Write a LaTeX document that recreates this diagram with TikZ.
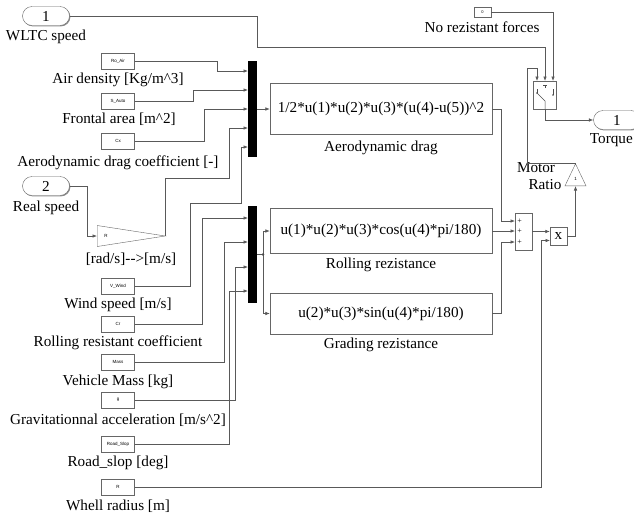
\documentclass[tikz,border=0pt]{standalone}
\usepackage{fontspec}
\setmainfont{Liberation Serif}
\setsansfont{Liberation Sans}
\usepackage{tikz}
\usetikzlibrary{arrows.meta,shapes.misc,shapes.geometric,shadows}

\begin{document}
\begin{tikzpicture}[
    x=1pt, y=-1pt,
    font=\fontsize{15.2}{17}\selectfont,
    >={Latex[length=4.5pt,width=3.6pt]},
    shd/.style={drop shadow={shadow xshift=0.9pt, shadow yshift=-0.9pt,
                fill=black!45, opacity=1}},
    port/.style={draw=black!60, fill=white, rounded rectangle, shd,
                 minimum width=47pt, minimum height=19pt, inner sep=0pt},
    cst/.style={draw=black!60, fill=white, shd, inner sep=0pt,
                minimum width=33pt, minimum height=16pt,
                font=\sffamily\fontsize{4.5}{5}\selectfont},
    bar/.style={fill=black, minimum width=9pt, inner sep=0pt},
    fcn/.style={draw=black!60, fill=white, shd, minimum width=222pt, inner sep=0pt},
    blk/.style={draw=black!60, fill=white, shd, inner sep=0pt},
    gain/.style={draw=black!60, fill=white, isosceles triangle,
                 isosceles triangle stretches, inner sep=0pt,
                 font=\sffamily\fontsize{4.5}{5}\selectfont},
    lab/.style={inner sep=0pt},
    plus/.style={inner sep=0pt, font=\fontsize{8}{8}\selectfont},
    sig/.style={->, draw=black!65, line width=0.7pt},
    wire/.style={draw=black!65, line width=0.7pt},
  ]
  \useasboundingbox (0,0) rectangle (634,520);

  %% ---- inports -----------------------------------------------------
  \node[port] (wltc) at (46,16) {1};
  \node[lab] at (46,37) {WLTC speed};
  \node[port] (real) at (46,186) {2};
  \node[lab] at (46,208) {Real speed};

  %% ---- parameters (left column) -------------------------------------
  \node[cst] (roair) at (118,61) {Ro\_Air};
  \node[lab] at (118,80) {Air density [Kg/m\textasciicircum 3]};
  \node[cst] (sauto) at (118,101) {S\_Auto};
  \node[lab] at (119,119) {Frontal area [m\textasciicircum 2]};
  \node[cst] (cx) at (118,141) {Cx};
  \node[lab] at (118,163) {Aerodynamic drag coefficient [-]};

  \node[gain, minimum width=21pt, minimum height=68pt, anchor=west] (kR) at (97,236) {R};
  \node[lab] at (131,259) {[rad/s]-{}-{}>[m/s]};

  \node[cst] (vwind) at (118,286) {V\_Wind};
  \node[lab] at (118,305) {Wind speed [m/s]};
  \node[cst] (cr) at (118,324) {Cr};
  \node[lab] at (118,343) {Rolling resistant coefficient};
  \node[cst] (mass) at (118,362) {Mass};
  \node[lab] at (118,382) {Vehicle Mass [kg]};
  \node[cst] (grav) at (118,400) {g};
  \node[lab] at (118,420) {Gravitationnal acceleration [m/s\textasciicircum 2]};
  \node[cst] (road) at (118,444) {Road\_Slop};
  \node[lab] at (118,463) {Road\_slop [deg]};
  \node[cst] (rad) at (118,487) {R};
  \node[lab] at (118,506) {Whell radius [m]};

  %% ---- muxes -----------------------------------------------------------
  \node[bar, minimum height=96pt] (mux1) at (252.5,109) {};
  \node[bar, minimum height=97pt] (mux2) at (252.5,254.5) {};
  \coordinate (m1a) at (248,71);
  \coordinate (m1b) at (248,90);
  \coordinate (m1c) at (248,109);
  \coordinate (m1d) at (248,128);
  \coordinate (m1e) at (248,147);
  \coordinate (m2a) at (248,218);
  \coordinate (m2b) at (248,242);
  \coordinate (m2c) at (248,267);
  \coordinate (m2d) at (248,291);

  \draw[sig] (roair.east) -- ++(83,0) |- (m1a);
  \draw[sig] (sauto.east) -- ++(59,0) |- (m1b);
  \draw[sig] (cx.east) -- ++(70,0) |- (m1c);
  \draw[sig] (real.east) -- ++(18,0) |- (kR.west);
  \draw[sig] (kR.apex) |- (229,178) |- (m1d);
  \draw[sig] (vwind.east) -- ++(56,0) |- (241,203) |- (m1e);

  \draw[sig] (cr.east) -- ++(68,0) |- (m2a);
  \draw[sig] (mass.east) -- ++(90,0) |- (m2b);
  \draw[sig] (grav.east) -- ++(101,0) |- (m2c);
  \draw[sig] (road.east) -- ++(95,0) |- (m2d);

  %% ---- force expressions -----------------------------------------------
  \node[fcn, minimum height=51pt] (aero) at (381,109)
    {1/2*u(1)*u(2)*u(3)*(u(4)-u(5))\textasciicircum 2};
  \node[lab] at (381,148) {Aerodynamic drag};
  \node[fcn, minimum height=45pt] (roll) at (381,231)
    {u(1)*u(2)*u(3)*cos(u(4)*pi/180)};
  \node[lab] at (381,265) {Rolling rezistance};
  \node[fcn, minimum height=41pt] (grade) at (381,313.5)
    {u(2)*u(3)*sin(u(4)*pi/180)};
  \node[lab] at (381,345) {Grading rezistance};

  \draw[sig] (mux1.east) -- (aero.west);
  \coordinate (br2) at (263,254.5);
  \draw[wire] (mux2.east) -- (br2);
  \draw[sig] (br2) |- (roll.west);
  \draw[sig] (br2) |- (grade.west);
  \fill[black!70] (br2) circle (1.3pt);

  %% ---- sum, product, motor ratio ------------------------------------------
  \node[blk, minimum width=17pt, minimum height=37pt] (sum1) at (523.5,231.5) {};
  \coordinate (sa) at (515,221);
  \coordinate (sb) at (515,231);
  \coordinate (sc) at (515,242);
  \node[plus] at (519.5,221) {+};
  \node[plus] at (519.5,231) {+};
  \node[plus] at (519.5,242) {+};

  \node[blk, minimum width=17pt, minimum height=18pt] (prod) at (558.5,236) {x};
  \coordinate (pb) at (550,240.5);

  \node[gain, shape border rotate=90, minimum width=21pt, minimum height=22pt,
        anchor=south] (kmot) at (575.5,186) {1};
  \node[lab] at (536,168) {Motor};
  \node[lab] at (545,185) {Ratio};

  \draw[sig] (aero.east) -- ++(9,0) |- (sa);
  \draw[sig] (roll.east) -- (sb);
  \draw[sig] (grade.east) -- ++(9,0) |- (sc);
  \draw[sig] (sum1.east) -- (sum1.east -| prod.west);
  \draw[sig] (rad.east) -- ++(407,0) |- (pb);
  \draw[sig] (prod.east) -| (kmot.south);

  %% ---- switch and output --------------------------------------------------
  \node[blk, minimum width=23pt, minimum height=28pt] (sw) at (545,95) {};
  \begin{scope}[shift={(sw.center)}, black!70, line width=0.5pt]
    \draw (-8,-6) -- (-8,-2);
    \fill (-8,-2) circle (0.8pt);
    \draw (-2,-10) -- (2,-10) (0,-10) -- (0,-7);
    \draw (8,-6) -- (8,0);
    \fill (8,0) circle (0.8pt);
    \draw (-8,-2) -- (0,6) -- (0,14);
  \end{scope}
  \coordinate (swa) at (537,81);
  \coordinate (swb) at (545,81);
  \coordinate (swc) at (553,81);

  \node[cst, font=\sffamily\fontsize{4}{4}\selectfont, minimum width=17pt,
        minimum height=10pt] (zero) at (482.5,12) {0};
  \node[lab] at (482,27) {No rezistant forces};

  \node[port] (torque) at (617,120) {1};
  \node[lab, anchor=east] at (633,140) {Torque};

  \draw[sig] (wltc.east) -| (257,47) -| (swb);
  \draw[sig] (zero.east) -| (swc);
  \draw[sig] (kmot.apex) -| (527,68) -| (swa);
  \draw[sig] (sw.south) |- (torque.west);

\end{tikzpicture}
\end{document}
